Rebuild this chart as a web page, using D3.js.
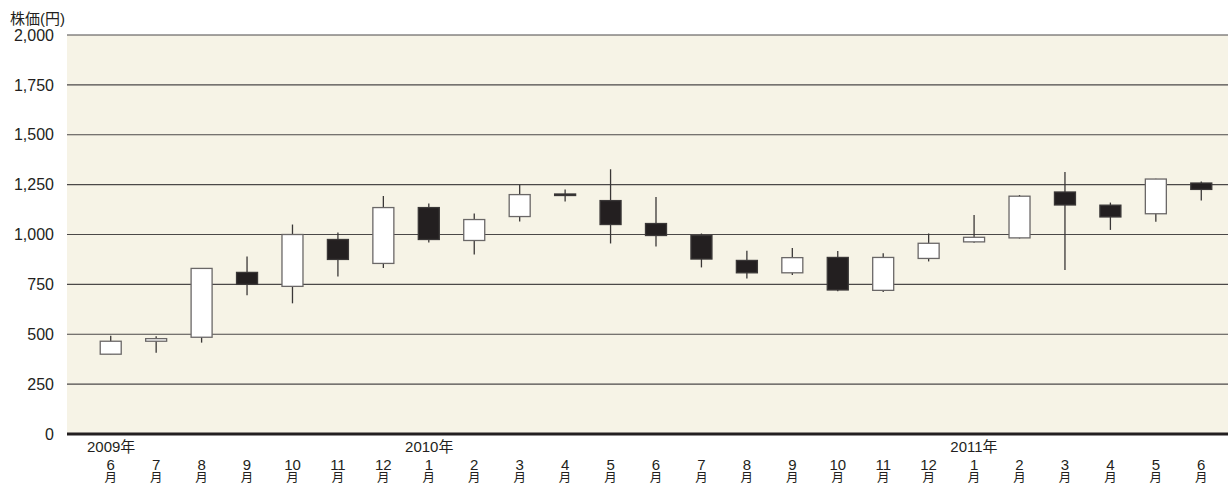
<!DOCTYPE html>
<html>
<head>
<meta charset="utf-8">
<script src="https://cdn.jsdelivr.net/npm/d3@7"></script>
<style>
  body { margin: 0; background: #fff; }
  text { font-family: "Liberation Sans", "Noto Sans CJK JP", sans-serif; fill: #231f20; }
</style>
</head>
<body>
<svg id="chart" width="1228" height="484"></svg>
<script>
// monthly candles, Jun 2009 - Jun 2011
var months = ["6","7","8","9","10","11","12","1","2","3","4","5","6","7","8","9","10","11","12","1","2","3","4","5","6"];
var years = [{label: "2009年", at: 0}, {label: "2010年", at: 7}, {label: "2011年", at: 19}];
var open  = [400, 465, 485, 810, 740, 975, 855, 1135, 970, 1090, 1203, 1170, 1055, 995, 870, 808, 885, 720, 880, 963, 983, 1213, 1147, 1104, 1258];
var high  = [493, 490, 832, 890, 1050, 1010, 1193, 1155, 1105, 1250, 1225, 1327, 1188, 1005, 918, 932, 917, 906, 1005, 1098, 1198, 1313, 1160, 1280, 1266];
var low   = [400, 407, 458, 695, 655, 790, 832, 960, 900, 1065, 1165, 955, 940, 835, 780, 797, 715, 712, 865, 959, 980, 822, 1023, 1064, 1171];
var close = [465, 478, 830, 750, 1000, 875, 1135, 975, 1075, 1200, 1198, 1050, 995, 877, 808, 884, 722, 885, 956, 986, 1192, 1148, 1088, 1278, 1226];
var yTicks = [0, 250, 500, 750, 1000, 1250, 1500, 1750, 2000];

var data = months.map(function(m, i) {
  return {i: i, m: m, o: open[i], h: high[i], l: low[i], c: close[i]};
});

var plotLeft = 67, plotRight = 1228, plotTop = 35, plotBottom = 434;

var svg = d3.select("#chart");

var x = d3.scaleBand()
  .domain(d3.range(months.length))
  .range([88, 1224]);

var y = d3.scaleLinear()
  .domain([0, 2000])
  .range([plotBottom, plotTop]);

// background
svg.append("rect")
  .attr("x", plotLeft)
  .attr("y", plotTop)
  .attr("width", plotRight - plotLeft)
  .attr("height", plotBottom - plotTop)
  .style("fill", "#f6f3e6");

// grid
svg.append("g").selectAll("line")
  .data(yTicks.filter(function(d) { return d > 0; }))
  .enter().append("line")
    .attr("x1", plotLeft)
    .attr("x2", plotRight)
    .attr("y1", function(d) { return y(d); })
    .attr("y2", function(d) { return y(d); })
    .style("stroke", "#4b4848")
    .style("stroke-width", 1.2);

// y axis labels
var yAxis = d3.axisLeft(y)
  .tickValues(yTicks)
  .tickFormat(d3.format(","))
  .tickSize(0)
  .tickPadding(0);

var ya = svg.append("g")
  .attr("transform", "translate(54,0)")
  .call(yAxis);
ya.select(".domain").remove();
ya.selectAll("text")
  .style("font-size", "16px")
  .style("font-family", "\"Liberation Sans\", sans-serif")
  .style("fill", "#231f20");

svg.append("text")
  .attr("x", 10)
  .attr("y", 24)
  .style("font-size", "15px")
  .text("株価(円)");

// candles
var bw = 21;
var candle = svg.append("g").selectAll("g")
  .data(data)
  .enter().append("g")
    .attr("transform", function(d) { return "translate(" + (x(d.i) + x.bandwidth() / 2) + ",0)"; });

candle.append("line")
  .attr("y1", function(d) { return y(d.h); })
  .attr("y2", function(d) { return y(d.l); })
  .style("stroke", "#3a3737")
  .style("stroke-width", 1.3);

candle.append("rect")
  .attr("x", -bw / 2)
  .attr("width", bw)
  .attr("y", function(d) { return y(Math.max(d.o, d.c)); })
  .attr("height", function(d) { return Math.max(1.5, Math.abs(y(d.o) - y(d.c))); })
  .style("fill", function(d) { return d.c >= d.o ? "#fff" : "#231f20"; })
  .style("stroke", function(d) { return d.c >= d.o ? "#6a6767" : "#3a3737"; })
  .style("stroke-width", 1.3);

// zero line
svg.append("line")
  .attr("x1", plotLeft)
  .attr("x2", plotRight)
  .attr("y1", y(0))
  .attr("y2", y(0))
  .style("stroke", "#231f20")
  .style("stroke-width", 3);

// x labels
var xl = svg.append("g").selectAll("text")
  .data(data)
  .enter().append("text")
    .attr("text-anchor", "middle")
    .style("font-size", "15px");
xl.append("tspan")
  .attr("x", function(d) { return x(d.i) + x.bandwidth() / 2; })
  .attr("y", 470)
  .text(function(d) { return d.m; });
xl.append("tspan")
  .attr("x", function(d) { return x(d.i) + x.bandwidth() / 2; })
  .attr("y", 482)
  .style("font-size", "12.5px")
  .text("月");

svg.append("g").selectAll("text")
  .data(years)
  .enter().append("text")
    .attr("x", function(d) { return x(d.at) - 1; })
    .attr("y", 452)
    .style("font-size", "15px")
    .text(function(d) { return d.label; });
</script>
</body>
</html>
